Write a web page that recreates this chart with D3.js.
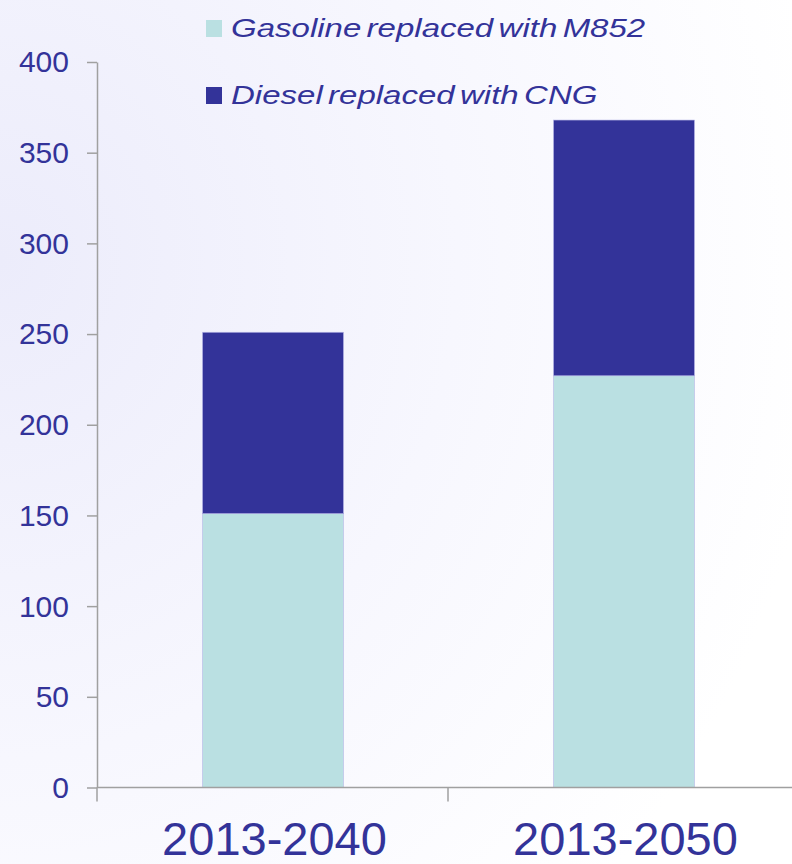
<!DOCTYPE html>
<html>
<head>
<meta charset="utf-8">
<script src="https://cdn.jsdelivr.net/npm/d3@7"></script>
<style>
  body { margin: 0; background: #fff; }
  svg { display: block; font-family: "Liberation Sans", Arial, sans-serif; }
</style>
</head>
<body>
<div id="chart"></div>
<script>
// chart data

var categories = ["2013-2040", "2013-2050"];
var seriesNames = ["Gasoline replaced with M852", "Diesel replaced with CNG"];
var gasoline = [151, 227];
var diesel = [100, 141];
var yTicks = [0, 50, 100, 150, 200, 250, 300, 350, 400];

var width = 792,
  height = 864;

var margin = {top: 62, left: 97, bottom: 864 - 787.5};

var colors = ["#bae0e2", "#333399"];
var textColor = "#333399";
var axisColor = "#a0a0a0";

var svg = d3.select("#chart").append("svg")
    .attr("width", width)
    .attr("height", height);

// background gradient
var defs = svg.append("defs");
var grad = defs.append("radialGradient")
    .attr("id", "bg")
    .attr("cx", 0).attr("cy", 0.3)
    .attr("r", 1.05)
    .attr("fx", 0).attr("fy", 0.3);
grad.append("stop").attr("offset", 0).attr("stop-color", "#ececfb");
grad.append("stop").attr("offset", 0.55).attr("stop-color", "#f7f7fe");
grad.append("stop").attr("offset", 1).attr("stop-color", "#ffffff");

svg.append("rect")
    .attr("width", width)
    .attr("height", height)
    .attr("fill", "url(#bg)");

// scales
var x = d3.scaleBand()
    .domain(categories)
    .range([margin.left, margin.left + 351 * categories.length])
    .paddingInner(0)
    .paddingOuter(0);

var y = d3.scaleLinear()
    .domain([0, 400])
    .range([height - margin.bottom, margin.top]);

var barWidth = 141;

// stack the series
var rows = categories.map(function(c, i) {
  return {cat: c, gas: gasoline[i], die: diesel[i]};
});
var stack = d3.stack().keys(["gas", "die"]);
var layers = stack(rows);

svg.append("g")
  .selectAll("g")
  .data(layers)
  .enter().append("g")
    .attr("fill", function(d, i) { return colors[i]; })
  .selectAll("rect")
  .data(function(d) { return d; })
  .enter().append("rect")
    .attr("x", function(d) { return x(d.data.cat) + x.bandwidth() / 2 - barWidth / 2 + 0.5; })
    .attr("y", function(d) { return y(d[1]); })
    .attr("width", barWidth)
    .attr("height", function(d) { return y(d[0]) - y(d[1]); })
    .attr("stroke", "#b8b8e8")
    .attr("stroke-width", 0.6);

// y axis
var yAxis = svg.append("g")
    .attr("transform", "translate(" + margin.left + ",0)")
    .call(d3.axisLeft(y).tickValues(yTicks).tickSize(10).tickPadding(18).tickSizeOuter(0));

yAxis.select(".domain").attr("stroke", axisColor).attr("stroke-width", 1.5);
yAxis.selectAll(".tick line").attr("stroke", axisColor).attr("stroke-width", 1.5);
yAxis.selectAll(".tick text")
    .attr("fill", textColor)
    .style("font-size", "30px")
    .attr("dy", "0.33em");

// x axis
var xAxisG = svg.append("g")
    .attr("transform", "translate(0," + y(0) + ")");

xAxisG.append("line")
    .attr("x1", margin.left).attr("x2", width)
    .attr("stroke", axisColor).attr("stroke-width", 1.5);

var bounds = [x.range()[0]].concat(categories.map(function(c) { return x(c) + x.bandwidth(); }));
xAxisG.selectAll("line.tick")
  .data(bounds)
  .enter().append("line")
    .attr("class", "tick")
    .attr("x1", function(d) { return d; })
    .attr("x2", function(d) { return d; })
    .attr("y1", 0).attr("y2", 14)
    .attr("stroke", axisColor).attr("stroke-width", 1.5);

xAxisG.selectAll("text")
  .data(categories)
  .enter().append("text")
    .attr("x", function(d) { return x(d) + x.bandwidth() / 2 + 2; })
    .attr("y", 67)
    .attr("text-anchor", "middle")
    .attr("fill", textColor)
    .style("font-size", "47px")
    .text(function(d) { return d; });

// legend
var legend = svg.selectAll("g.legend")
  .data(seriesNames)
  .enter().append("g")
    .attr("class", "legend")
    .attr("transform", function(d, i) { return "translate(206," + (20 + i * 67) + ")"; });

legend.append("rect")
    .attr("width", 16)
    .attr("height", 17)
    .attr("fill", function(d, i) { return colors[i]; });

legend.append("text")
    .attr("transform", "translate(25,17) scale(1.27,1)")
    .attr("fill", textColor)
    .style("font-size", "26px")
    .style("font-style", "italic")
    .style("word-spacing", "-3px")
    .text(function(d) { return d; });
</script>
</body>
</html>
